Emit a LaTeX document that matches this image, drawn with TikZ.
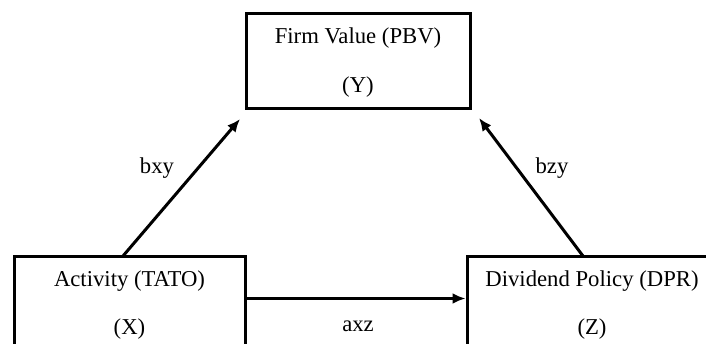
\documentclass[tikz,border=0pt]{standalone}
\usepackage{fontspec}
\setmainfont{Liberation Serif}
\usetikzlibrary{arrows.meta}
\begin{document}
\begin{tikzpicture}[x=1pt,y=-1pt,
  box/.style={draw, line width=3pt, rectangle, inner sep=0pt, minimum height=95pt},
  lbl/.style={font=\fontsize{22.7}{27}\selectfont, inner sep=0pt},
  conn/.style={line width=3pt, -{Latex[length=13pt,width=11pt]}}]
\useasboundingbox (0,0) rectangle (706,343);
\clip (0,0) rectangle (706,343);
% boxes
\node[box, minimum width=224pt] (Y) at (358,60.5) {};
\node[box, minimum width=231pt] (X) at (129.5,303.5) {};
\node[box, minimum width=250pt] (Z) at (592,303.5) {};
% texts
\node[lbl] (Yt1) at (358,38) {Firm Value (PBV)};
\node[lbl] (Yt2) at (358,87) {(Y)};
\node[lbl] (Xt1) at (129.5,281) {Activity (TATO)};
\node[lbl] (Xt2) at (129.5,329) {(X)};
\node[lbl] (Zt1) at (592,281) {Dividend Policy (DPR)};
\node[lbl] (Zt2) at (592,329) {(Z)};
% connector end points
\coordinate (bxyS) at (123,256);
\coordinate (bxyE) at (240,119);
\coordinate (bzyS) at (583,256);
\coordinate (bzyE) at (479,118);
\coordinate (axzY) at (0,298.5);
% connectors
\draw[conn] (bxyS) -- (bxyE);
\draw[conn] (bzyS) -- (bzyE);
\draw[conn] (X.east |- axzY) -- (Z.west |- axzY);
% labels
\node[lbl] (lbxy) at (157,168) {bxy};
\node[lbl] (lbzy) at (552,168) {bzy};
\node[lbl] (laxz) at (358,326) {axz};
\end{tikzpicture}
\end{document}
